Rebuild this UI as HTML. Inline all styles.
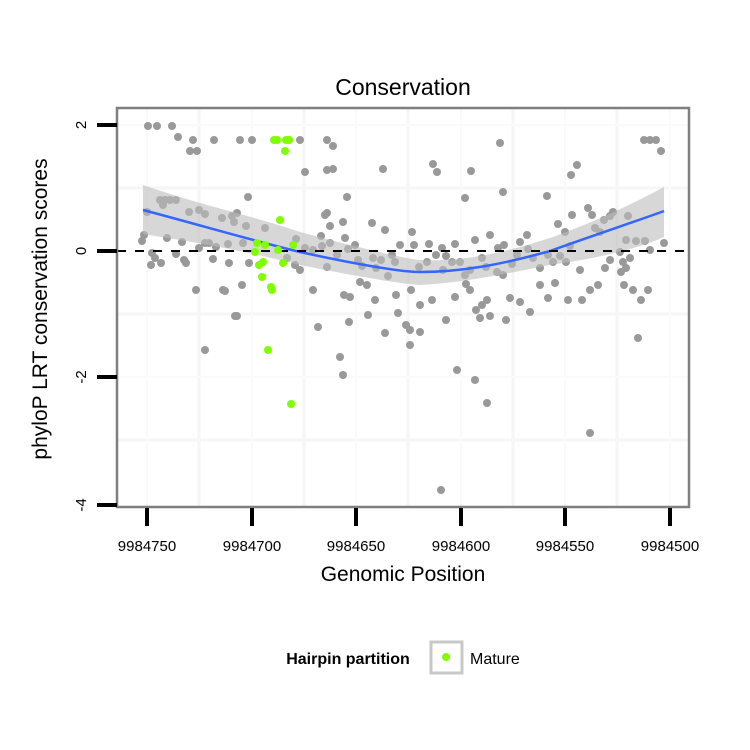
<!DOCTYPE html>
<html><head><meta charset="utf-8"><style>body{margin:0;background:#fff}svg{display:block}</style></head>
<body>
<svg width="750" height="750" xmlns="http://www.w3.org/2000/svg" font-family="Liberation Sans, sans-serif">
<rect width="750" height="750" fill="#fff"/>
<g stroke="#f6f6f6" stroke-width="3">
<line x1="117" y1="188" x2="689" y2="188"/><line x1="117" y1="314" x2="689" y2="314"/><line x1="117" y1="440" x2="689" y2="440"/>
<line x1="199" y1="108" x2="199" y2="507"/><line x1="304" y1="108" x2="304" y2="507"/><line x1="408" y1="108" x2="408" y2="507"/><line x1="513" y1="108" x2="513" y2="507"/><line x1="617" y1="108" x2="617" y2="507"/>
</g>
<g stroke="#fafafa" stroke-width="2">
<line x1="117" y1="125" x2="689" y2="125"/><line x1="117" y1="377" x2="689" y2="377"/>
<line x1="147" y1="108" x2="147" y2="507"/><line x1="252" y1="108" x2="252" y2="507"/><line x1="356" y1="108" x2="356" y2="507"/><line x1="461" y1="108" x2="461" y2="507"/><line x1="565" y1="108" x2="565" y2="507"/><line x1="670" y1="108" x2="670" y2="507"/>
</g>
<g fill="#999">
<circle cx="148" cy="126" r="4"/><circle cx="157" cy="126" r="4"/><circle cx="172" cy="126" r="4"/><circle cx="178" cy="137" r="4"/><circle cx="193" cy="140" r="4"/><circle cx="190" cy="151" r="4"/><circle cx="197" cy="151" r="4"/><circle cx="214" cy="140" r="4"/><circle cx="240" cy="140" r="4"/><circle cx="252" cy="140" r="4"/><circle cx="300" cy="140" r="4"/><circle cx="327" cy="140" r="4"/><circle cx="333" cy="146" r="4"/><circle cx="327" cy="170" r="4"/><circle cx="333" cy="169" r="4"/><circle cx="383" cy="169" r="4"/><circle cx="433" cy="164" r="4"/><circle cx="437" cy="172" r="4"/><circle cx="471" cy="171" r="4"/><circle cx="500" cy="143" r="4"/><circle cx="644" cy="140" r="4"/><circle cx="650" cy="140" r="4"/><circle cx="656" cy="140" r="4"/><circle cx="661" cy="151" r="4"/><circle cx="577" cy="165" r="4"/><circle cx="571" cy="175" r="4"/><circle cx="465" cy="198" r="4"/><circle cx="547" cy="196" r="4"/><circle cx="503" cy="192" r="4"/><circle cx="347" cy="197" r="4"/><circle cx="305" cy="172" r="4"/>
<circle cx="147" cy="212" r="4"/><circle cx="160" cy="200" r="4"/><circle cx="165" cy="200" r="4"/><circle cx="170" cy="200" r="4"/><circle cx="176" cy="200" r="4"/><circle cx="163" cy="205" r="4"/><circle cx="189" cy="212" r="4"/><circle cx="199" cy="210" r="4"/><circle cx="205" cy="214" r="4"/><circle cx="222" cy="218" r="4"/><circle cx="232" cy="216" r="4"/><circle cx="234" cy="222" r="4"/><circle cx="237" cy="213" r="4"/><circle cx="246" cy="226" r="4"/><circle cx="265" cy="228" r="4"/><circle cx="327" cy="213" r="4"/><circle cx="325" cy="215" r="4"/><circle cx="330" cy="226" r="4"/><circle cx="343" cy="222" r="4"/><circle cx="372" cy="223" r="4"/><circle cx="385" cy="230" r="4"/><circle cx="248" cy="197" r="4"/>
<circle cx="144" cy="235" r="4"/><circle cx="142" cy="241" r="4"/><circle cx="152" cy="253" r="4"/><circle cx="151" cy="265" r="4"/><circle cx="155" cy="258" r="4"/><circle cx="161" cy="263" r="4"/><circle cx="167" cy="238" r="4"/><circle cx="176" cy="254" r="4"/><circle cx="182" cy="242" r="4"/><circle cx="184" cy="260" r="4"/><circle cx="186" cy="263" r="4"/><circle cx="199" cy="248" r="4"/><circle cx="205" cy="243" r="4"/><circle cx="209" cy="243" r="4"/><circle cx="216" cy="247" r="4"/><circle cx="213" cy="259" r="4"/><circle cx="228" cy="244" r="4"/><circle cx="229" cy="263" r="4"/><circle cx="242" cy="285" r="4"/><circle cx="243" cy="243" r="4"/><circle cx="249" cy="263" r="4"/><circle cx="223" cy="290" r="4"/><circle cx="225" cy="291" r="4"/><circle cx="196" cy="290" r="4"/><circle cx="237" cy="316" r="4"/><circle cx="235" cy="316" r="4"/><circle cx="205" cy="350" r="4"/>
<circle cx="296" cy="239" r="4"/><circle cx="305" cy="248" r="4"/><circle cx="313" cy="250" r="4"/><circle cx="321" cy="236" r="4"/><circle cx="322" cy="246" r="4"/><circle cx="330" cy="243" r="4"/><circle cx="337" cy="255" r="4"/><circle cx="345" cy="238" r="4"/><circle cx="348" cy="249" r="4"/><circle cx="355" cy="245" r="4"/><circle cx="358" cy="260" r="4"/><circle cx="362" cy="266" r="4"/><circle cx="373" cy="258" r="4"/><circle cx="376" cy="268" r="4"/><circle cx="381" cy="260" r="4"/><circle cx="388" cy="276" r="4"/><circle cx="392" cy="255" r="4"/><circle cx="395" cy="262" r="4"/><circle cx="287" cy="258" r="4"/><circle cx="295" cy="265" r="4"/><circle cx="300" cy="270" r="4"/><circle cx="313" cy="290" r="4"/><circle cx="327" cy="267" r="4"/><circle cx="318" cy="327" r="4"/><circle cx="344" cy="295" r="4"/><circle cx="350" cy="297" r="4"/><circle cx="340" cy="357" r="4"/><circle cx="343" cy="375" r="4"/><circle cx="349" cy="322" r="4"/><circle cx="360" cy="282" r="4"/><circle cx="367" cy="285" r="4"/><circle cx="368" cy="315" r="4"/><circle cx="375" cy="300" r="4"/><circle cx="385" cy="333" r="4"/><circle cx="398" cy="313" r="4"/><circle cx="406" cy="325" r="4"/><circle cx="410" cy="330" r="4"/><circle cx="396" cy="295" r="4"/><circle cx="420" cy="305" r="4"/><circle cx="411" cy="290" r="4"/><circle cx="432" cy="300" r="4"/><circle cx="420" cy="332" r="4"/><circle cx="410" cy="345" r="4"/>
<circle cx="400" cy="245" r="4"/><circle cx="412" cy="232" r="4"/><circle cx="414" cy="245" r="4"/><circle cx="419" cy="267" r="4"/><circle cx="427" cy="262" r="4"/><circle cx="429" cy="244" r="4"/><circle cx="436" cy="255" r="4"/><circle cx="442" cy="248" r="4"/><circle cx="446" cy="256" r="4"/><circle cx="443" cy="270" r="4"/><circle cx="452" cy="262" r="4"/><circle cx="455" cy="244" r="4"/><circle cx="460" cy="262" r="4"/><circle cx="465" cy="275" r="4"/><circle cx="470" cy="270" r="4"/><circle cx="475" cy="240" r="4"/><circle cx="482" cy="258" r="4"/><circle cx="486" cy="267" r="4"/><circle cx="490" cy="235" r="4"/><circle cx="498" cy="248" r="4"/><circle cx="504" cy="245" r="4"/><circle cx="512" cy="264" r="4"/><circle cx="517" cy="255" r="4"/><circle cx="520" cy="242" r="4"/><circle cx="527" cy="235" r="4"/><circle cx="528" cy="249" r="4"/><circle cx="533" cy="258" r="4"/><circle cx="540" cy="268" r="4"/><circle cx="548" cy="255" r="4"/><circle cx="553" cy="262" r="4"/><circle cx="560" cy="256" r="4"/><circle cx="566" cy="262" r="4"/><circle cx="570" cy="246" r="4"/><circle cx="565" cy="232" r="4"/><circle cx="558" cy="224" r="4"/><circle cx="572" cy="215" r="4"/><circle cx="588" cy="208" r="4"/><circle cx="592" cy="215" r="4"/><circle cx="595" cy="228" r="4"/><circle cx="600" cy="232" r="4"/><circle cx="604" cy="220" r="4"/><circle cx="610" cy="216" r="4"/><circle cx="613" cy="212" r="4"/><circle cx="628" cy="216" r="4"/><circle cx="626" cy="240" r="4"/><circle cx="636" cy="241" r="4"/><circle cx="645" cy="241" r="4"/><circle cx="650" cy="250" r="4"/><circle cx="664" cy="243" r="4"/><circle cx="620" cy="252" r="4"/><circle cx="623" cy="262" r="4"/><circle cx="630" cy="258" r="4"/><circle cx="626" cy="268" r="4"/>
<circle cx="621" cy="272" r="4"/><circle cx="624" cy="285" r="4"/><circle cx="633" cy="290" r="4"/><circle cx="641" cy="300" r="4"/><circle cx="648" cy="290" r="4"/><circle cx="638" cy="338" r="4"/><circle cx="590" cy="433" r="4"/><circle cx="580" cy="270" r="4"/><circle cx="598" cy="285" r="4"/><circle cx="555" cy="283" r="4"/><circle cx="548" cy="298" r="4"/><circle cx="540" cy="285" r="4"/><circle cx="530" cy="312" r="4"/><circle cx="520" cy="302" r="4"/><circle cx="510" cy="298" r="4"/><circle cx="506" cy="320" r="4"/><circle cx="490" cy="316" r="4"/><circle cx="480" cy="318" r="4"/><circle cx="487" cy="403" r="4"/><circle cx="475" cy="380" r="4"/><circle cx="455" cy="297" r="4"/><circle cx="446" cy="320" r="4"/><circle cx="457" cy="370" r="4"/><circle cx="441" cy="490" r="4"/><circle cx="466" cy="284" r="4"/><circle cx="470" cy="290" r="4"/><circle cx="487" cy="300" r="4"/><circle cx="482" cy="305" r="4"/><circle cx="476" cy="310" r="4"/><circle cx="497" cy="272" r="4"/><circle cx="503" cy="275" r="4"/><circle cx="582" cy="300" r="4"/><circle cx="590" cy="290" r="4"/><circle cx="568" cy="300" r="4"/><circle cx="605" cy="268" r="4"/><circle cx="610" cy="260" r="4"/>
</g>
<path d="M143,185 C200,205 250,215 300,232 C350,245 400,258 420,260 C460,262 500,254 550,238 C600,220 640,200 664,187 L664,237 C640,248 600,258 550,265 C500,275 460,283 420,285 C400,284 350,275 300,265 C250,252 200,243 143,234 Z" fill="#bdbdbd" fill-opacity="0.6"/>
<path d="M143,210 C200,225 250,240 300,252 C350,263 400,272 420,272 C460,272 500,265 550,251 C600,233 640,220 664,211" fill="none" stroke="#3366ff" stroke-width="2.5"/>
<line x1="117" y1="251" x2="689" y2="251" stroke="#000" stroke-width="2" stroke-dasharray="9,9"/>
<g fill="#7fff00">
<circle cx="274" cy="140" r="4"/><circle cx="277" cy="140" r="4"/><circle cx="286" cy="140" r="4"/><circle cx="289" cy="140" r="4"/><circle cx="285" cy="151" r="4"/><circle cx="280" cy="220" r="4"/><circle cx="257" cy="243" r="4"/><circle cx="265" cy="245" r="4"/><circle cx="278" cy="250" r="4"/><circle cx="255" cy="252" r="4"/><circle cx="263" cy="262" r="4"/><circle cx="259" cy="265" r="4"/><circle cx="283" cy="263" r="4"/><circle cx="262" cy="277" r="4"/><circle cx="271" cy="287" r="4"/><circle cx="272" cy="290" r="4"/><circle cx="293" cy="245" r="4"/><circle cx="268" cy="350" r="4"/><circle cx="291" cy="404" r="4"/>
</g>
<rect x="117" y="108" width="572" height="399" fill="none" stroke="#7f7f7f" stroke-width="2.5"/>
<g stroke="#000" stroke-width="4">
<line x1="97" y1="125" x2="117" y2="125"/><line x1="97" y1="251" x2="117" y2="251"/><line x1="97" y1="377" x2="117" y2="377"/><line x1="97" y1="505" x2="117" y2="505"/>
<line x1="147" y1="508" x2="147" y2="526"/><line x1="252" y1="508" x2="252" y2="526"/><line x1="356" y1="508" x2="356" y2="526"/><line x1="461" y1="508" x2="461" y2="526"/><line x1="565" y1="508" x2="565" y2="526"/><line x1="670" y1="508" x2="670" y2="526"/>
</g>
<g font-size="15" text-anchor="middle" fill="#000">
<text transform="translate(86,125) rotate(-90)">2</text><text transform="translate(86,251) rotate(-90)">0</text><text transform="translate(86,377) rotate(-90)">-2</text><text transform="translate(86,505) rotate(-90)">-4</text>
<text x="147" y="551">9984750</text><text x="252" y="551">9984700</text><text x="356" y="551">9984650</text><text x="461" y="551">9984600</text><text x="565" y="551">9984550</text><text x="670" y="551">9984500</text>
</g>
<text x="403" y="95" font-size="23" text-anchor="middle">Conservation</text>
<text x="403" y="581" font-size="21" text-anchor="middle">Genomic Position</text>
<text transform="translate(47,309) rotate(-90)" font-size="21" text-anchor="middle">phyloP LRT conservation scores</text>
<text x="348" y="664" font-size="16" font-weight="bold" text-anchor="middle">Hairpin partition</text>
<rect x="431" y="642" width="31" height="31" fill="#fff" stroke="#c8c8c8" stroke-width="3"/>
<circle cx="446" cy="657" r="4" fill="#7fff00"/>
<text x="470" y="664" font-size="16">Mature</text>
</svg>
</body></html>
